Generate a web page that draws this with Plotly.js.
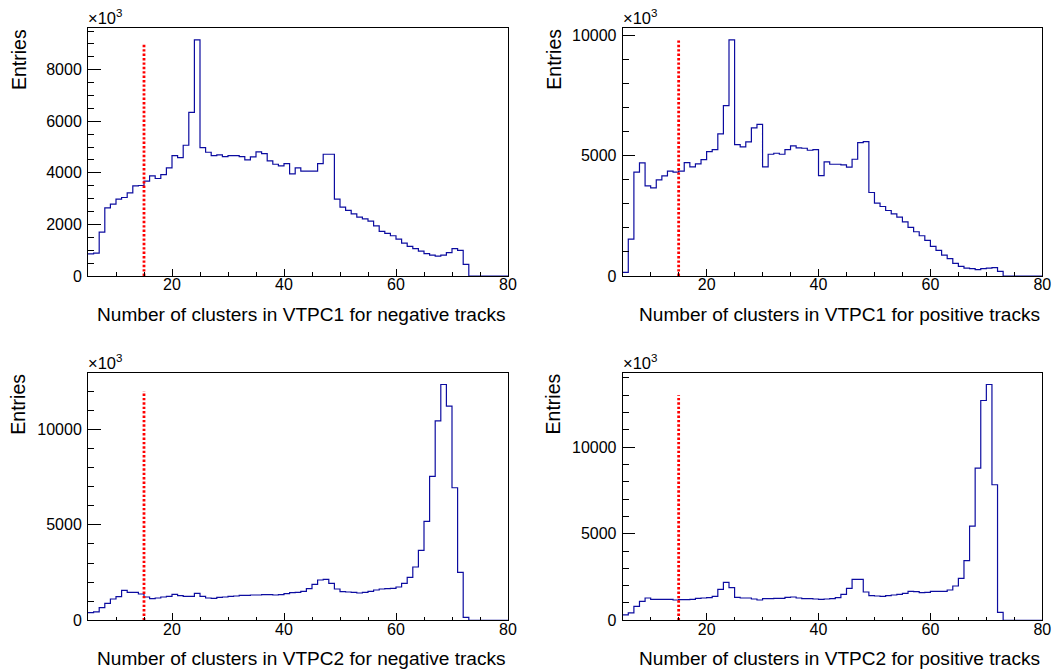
<!DOCTYPE html>
<html><head><meta charset="utf-8">
<script src="https://cdn.plot.ly/plotly-3.0.1.min.js"></script>
<style>html,body{margin:0;padding:0;background:#fff}</style>
</head><body><div id="chart" style="width:1052px;height:671px"></div>
<script>
// Histogram binning: 1-unit bins from 5 to 80
const binLow = 5, binHigh = 80;

// Bin contents (bins 5..79)
const negVTPC1 = [860, 890, 1703, 2645, 2787, 2981, 3045, 3226, 3497, 3510,
  3677, 3884, 3781, 3935, 4194, 4671, 4594, 5071, 6348, 9161,
  4981, 4800, 4671, 4697, 4632, 4671, 4671, 4632, 4503, 4619,
  4813, 4748, 4465, 4335, 4271, 4361, 3961, 4194, 4065, 4065,
  4065, 4361, 4723, 4723, 2981, 2671, 2542, 2413, 2284, 2219,
  2129, 1948, 1729, 1652, 1561, 1432, 1277, 1148, 1058, 968,
  865, 813, 774, 813, 903, 1058, 994, 452, 0, 0, 0, 0, 0, 0, 0];

const posVTPC1 = [152, 1533, 4309, 4695, 3743, 3660, 3991, 4157, 4350, 4309,
  4350, 4709, 4530, 4654, 4834, 5165, 5248, 5897, 7071, 9805,
  5455, 5358, 5565, 6145, 6297, 4530, 5054, 5096, 5054, 5248,
  5400, 5317, 5303, 5220, 5248, 4171, 4737, 4640, 4640, 4612,
  4516, 4847, 5538, 5579, 3466, 3024, 2886, 2720, 2582, 2444,
  2251, 2016, 1837, 1671, 1478, 1229, 1063, 870, 718, 525,
  400, 331, 304, 262, 304, 331, 345, 193, 0, 0, 0, 0, 0, 0, 0];

const negVTPC2 = [400, 440, 663, 890, 1117, 1239, 1570, 1466, 1466, 1379,
  1222, 1134, 1169, 1222, 1256, 1361, 1291, 1256, 1256, 1413,
  1256, 1169, 1152, 1204, 1222, 1256, 1274, 1309, 1309, 1326,
  1326, 1344, 1344, 1326, 1344, 1396, 1448, 1460, 1518, 1658,
  1885, 2111, 2146, 1937, 1640, 1501, 1483, 1466, 1431, 1466,
  1518, 1588, 1640, 1658, 1675, 1745, 1937, 2251, 2792, 3665,
  5183, 7538, 10453, 12355, 11220, 6945, 2513, 157, 0, 0, 0, 0, 0, 0, 0];

const posVTPC2 = [308, 423, 808, 1096, 1288, 1211, 1211, 1211, 1211, 1173,
  1192, 1192, 1211, 1269, 1288, 1308, 1385, 1788, 2192, 1884,
  1327, 1288, 1288, 1231, 1173, 1250, 1250, 1269, 1269, 1327,
  1346, 1288, 1250, 1250, 1231, 1211, 1231, 1250, 1308, 1500,
  1846, 2365, 2365, 1635, 1423, 1404, 1385, 1423, 1461, 1500,
  1558, 1673, 1654, 1596, 1615, 1673, 1673, 1673, 1750, 1981,
  2423, 3442, 5442, 8788, 12692, 13615, 7827, 462, 0, 0, 0, 0, 0, 0, 0];

const cutValue = 15;
const cutLineTops = [9000, 9850, 12000, 13000];

const xTitles = [
  "Number of clusters in VTPC1 for negative tracks",
  "Number of clusters in VTPC1 for positive tracks",
  "Number of clusters in VTPC2 for negative tracks",
  "Number of clusters in VTPC2 for positive tracks"
];
const yTitle = "Entries";
const multiplierLabel = "×10<sup>3</sup>";
const xTickStep = 20, xMinorStep = 5;
const yTickSteps = [2000, 5000, 5000, 5000];
const yMinorSteps = [500, 1000, 1000, 1000];

const series = [negVTPC1, posVTPC1, negVTPC2, posVTPC2];

// ---- layout geometry (pixels) ----
const W = 1052, H = 671;
const colX = [[88, 508], [622.7, 1042.3]];
const rowY = [[28, 276], [372.7, 620.3]]; // top, bottom in px
const px = v => v / W;
const py = v => (H - v) / H;

const FONT = "Liberation Sans, Arial, Helvetica, sans-serif";
const histColor = "#0c0ca0";

const traces = [];
const layout = {
  width: W, height: H,
  margin: {l: 0, r: 0, t: 0, b: 0},
  paper_bgcolor: "#fff", plot_bgcolor: "#fff",
  showlegend: false,
  font: {family: FONT, size: 16, color: "#000"},
  annotations: []
};

series.forEach((vals, i) => {
  const col = i % 2, row = Math.floor(i / 2);
  const sfx = i === 0 ? "" : String(i + 1);
  const xa = "x" + sfx, ya = "y" + sfx;
  const edges = [];
  for (let e = binLow; e <= binHigh; e++) edges.push(e);
  const ys = vals.concat([vals[vals.length - 1]]);
  traces.push({
    type: "scatter", mode: "lines", x: edges, y: ys,
    xaxis: xa, yaxis: ya,
    line: {shape: "hv", color: histColor, width: 1.2},
    hoverinfo: "skip"
  });
  traces.push({
    type: "scatter", mode: "lines", x: [cutValue, cutValue], y: [0, cutLineTops[i]],
    xaxis: xa, yaxis: ya,
    line: {color: "#ff0000", width: 2.8, dash: "2.4px,2px"},
    hoverinfo: "skip"
  });
  const ymax = Math.max(...vals) * 1.05;
  const plotW = colX[col][1] - colX[col][0];
  const plotH = rowY[row][1] - rowY[row][0];
  layout["xaxis" + sfx] = {
    domain: [px(colX[col][0]), px(colX[col][1])],
    anchor: ya, range: [binLow, binHigh],
    tick0: 0, dtick: xTickStep, ticks: "inside", ticklen: 0.03 * plotH, tickwidth: 1, tickcolor: "#000",
    minor: {dtick: xMinorStep, tick0: 0, ticks: "inside", ticklen: 0.015 * plotH, tickcolor: "#000", showgrid: false},
    showline: true, linecolor: "#000", linewidth: 1, mirror: true,
    showgrid: false, zeroline: false,
    exponentformat: "none", separatethousands: false,
    tickfont: {family: FONT, size: 16, color: "#000"},
    ticklabelstandoff: -6
  };
  layout["yaxis" + sfx] = {
    domain: [py(rowY[row][1]), py(rowY[row][0])],
    anchor: xa, range: [0, ymax],
    tick0: 0, dtick: yTickSteps[i], ticks: "inside", ticklen: 0.03 * plotW, tickwidth: 1, tickcolor: "#000",
    minor: {dtick: yMinorSteps[i], tick0: 0, ticks: "inside", ticklen: 0.015 * plotW, tickcolor: "#000", showgrid: false},
    showline: true, linecolor: "#000", linewidth: 1, mirror: true,
    showgrid: false, zeroline: false,
    exponentformat: "none", separatethousands: false, tickformat: "d",
    tickfont: {family: FONT, size: 16, color: "#000"},
    ticklabelstandoff: 2
  };
  // x title (right-aligned at axis end)
  layout.annotations.push({
    xref: "paper", yref: "paper",
    x: px(colX[col][1]), y: py(rowY[row][1] + 38),
    xanchor: "right", yanchor: "middle", showarrow: false,
    text: xTitles[i], font: {family: FONT, size: 19.1, color: "#000"}
  });
  // y title (rotated, top-aligned)
  layout.annotations.push({
    xref: "paper", yref: "paper",
    x: px(colX[col][0] - 69.5), y: py(rowY[row][0] - 1),
    xanchor: "center", yanchor: "top", showarrow: false, textangle: -90,
    text: yTitle, font: {family: FONT, size: 19.5, color: "#000"}
  });
  // multiplier
  layout.annotations.push({
    xref: "paper", yref: "paper",
    x: px(colX[col][0] - 2), y: py(rowY[row][0] + 1),
    xanchor: "left", yanchor: "bottom", showarrow: false,
    text: multiplierLabel, font: {family: FONT, size: 16.5, color: "#000"}
  });
});

Plotly.newPlot("chart", traces, layout, {displayModeBar: false, staticPlot: true});
</script></body></html>
